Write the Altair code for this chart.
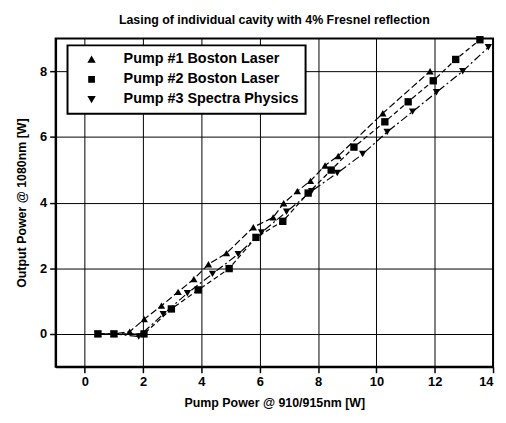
import altair as alt
import pandas as pd

# ---- data ----
names = ["Pump #1 Boston Laser", "Pump #2 Boston Laser", "Pump #3 Spectra Physics"]

x1 = [0.45, 1.0, 1.54, 2.04, 2.63, 3.2, 3.74, 4.24, 4.86, 5.78, 6.46, 6.82, 7.29, 7.74, 8.24, 8.69, 10.22, 11.84]
y1 = [0.0, 0.0, 0.07, 0.45, 0.86, 1.28, 1.67, 2.12, 2.46, 3.25, 3.55, 3.98, 4.35, 4.66, 5.13, 5.42, 6.72, 8.0]

x2 = [0.45, 1.0, 2.03, 2.97, 3.89, 4.95, 5.87, 6.79, 7.66, 8.45, 9.23, 10.29, 11.09, 11.95, 12.72, 13.55]
y2 = [0.0, 0.0, 0.0, 0.76, 1.34, 1.99, 2.94, 3.43, 4.29, 4.99, 5.69, 6.46, 7.07, 7.71, 8.36, 8.96]

x3 = [0.45, 1.0, 1.85, 2.69, 3.52, 4.38, 5.26, 6.06, 6.92, 7.78, 8.66, 9.53, 10.37, 11.24, 12.06, 12.96, 13.84]
y3 = [0.0, 0.0, -0.08, 0.6, 1.24, 1.83, 2.43, 3.09, 3.72, 4.35, 4.9, 5.48, 6.15, 6.77, 7.36, 8.0, 8.73]

x_ticks = list(range(0, 15))
y_ticks = list(range(0, 10))

title = "Lasing of individual cavity with 4% Fresnel reflection"
x_title = "Pump Power @ 910/915nm [W]"
y_title = "Output Power @ 1080nm [W]"

# ---- build table ----
rows = []
for name, xs, ys in zip(names, [x1, x2, x3], [y1, y2, y3]):
    for i, (a, b) in enumerate(zip(xs, ys)):
        rows.append({"series": name, "x": a, "y": b, "order": i})
df = pd.DataFrame(rows)

FONT = "Liberation Sans"
shapes = ["triangle-up", "square", "triangle-down"]
dashes = [[7, 3], [5, 3], [8, 3, 2, 3]]
legend_paths = [
    "M-3.6,0H-1.2M1.2,0H3.6M0,-1L1.05,0.8L-1.05,0.8Z",
    "M-3.6,0H-1.2M-0.85,-0.85H0.85V0.85H-0.85ZM1.2,0H2.1M2.7,0H3.6",
    "M-3.6,0H-1.2M1.2,0H3.6M0,1L1.05,-0.8L-1.05,-0.8Z",
]

major_test = "datum.value % 2 !== 0"
xaxis = alt.Axis(
    values=x_ticks, title=x_title,
    labelExpr="datum.value % 2 == 0 ? datum.label : ''",
    gridOpacity={"condition": {"test": major_test, "value": 0}, "value": 1},
    tickSize={"condition": {"test": major_test, "value": 3}, "value": 6},
    titlePadding=8,
)
yaxis = alt.Axis(
    values=y_ticks, title=y_title,
    labelExpr="datum.value % 2 == 0 ? datum.label : ''",
    gridOpacity={"condition": {"test": major_test, "value": 0}, "value": 1},
    tickSize={"condition": {"test": major_test, "value": 3}, "value": 6},
    titlePadding=11,
)

X = alt.X("x:Q", scale=alt.Scale(domain=[-1, 14], nice=False, zero=False), axis=xaxis)
Y = alt.Y("y:Q", scale=alt.Scale(domain=[-1, 9], nice=False, zero=False), axis=yaxis)

base = alt.Chart(df)

# one dashed line layer per series (no strokeDash channel -> no disabled legend to merge with)
line_layers = []
for name, dash in zip(names, dashes):
    line_layers.append(
        base.transform_filter(alt.datum.series == name)
        .mark_line(color="black", strokeWidth=1.2, strokeDash=dash)
        .encode(x=X, y=Y, order="order:Q")
    )

point_layers = []
for name, shp in zip(names, shapes):
    point_layers.append(
        base.transform_filter(alt.datum.series == name)
        .mark_point(shape=shp, filled=True, color="black", opacity=1, size=55)
        .encode(x="x:Q", y="y:Q")
    )

# invisible layer carrying the legend (custom line+marker symbols)
legend_layer = base.transform_calculate(entry="datum.series").mark_point(
    filled=True, color="black", opacity=0
).encode(
    x="x:Q", y="y:Q",
    shape=alt.Shape(
        "entry:N",
        scale=alt.Scale(domain=names, range=legend_paths),
        legend=alt.Legend(
            title=None, orient="none", legendX=12, legendY=7,
            fillColor="white", strokeColor="black", padding=7,
            symbolOffset=10, labelOffset=25, rowPadding=5, labelLimit=300,
            symbolOpacity=1, symbolSize=64, symbolStrokeWidth=1.4,
            symbolFillColor="black", symbolStrokeColor="black",
            labelFont=FONT, labelFontSize=14.5, labelFontWeight="bold", labelColor="black",
        ),
    ),
)

chart = alt.layer(*line_layers, *point_layers, legend_layer).properties(
    width=441, height=331,
    background="white",
    title=alt.Title(title, font=FONT, fontSize=12.5, fontWeight="bold", color="black", anchor="middle", offset=10),
    autosize=alt.AutoSizeParams(type="none"),
    padding={"left": 48, "top": 29, "right": 5, "bottom": 50},
).configure_view(
    stroke="black", strokeWidth=2
).configure_axis(
    domainColor="black", domainWidth=2,
    tickColor="black", tickWidth=1.5,
    gridColor="black", gridWidth=1,
    labelFont=FONT, labelFontSize=13, labelFontWeight="bold", labelColor="black", labelPadding=3,
    titleFont=FONT, titleFontSize=12.5, titleFontWeight="bold", titleColor="black",
).configure_legend(
    strokeWidth=2
)

chart.save("out.html", embed_options={"renderer": "svg", "actions": False})
